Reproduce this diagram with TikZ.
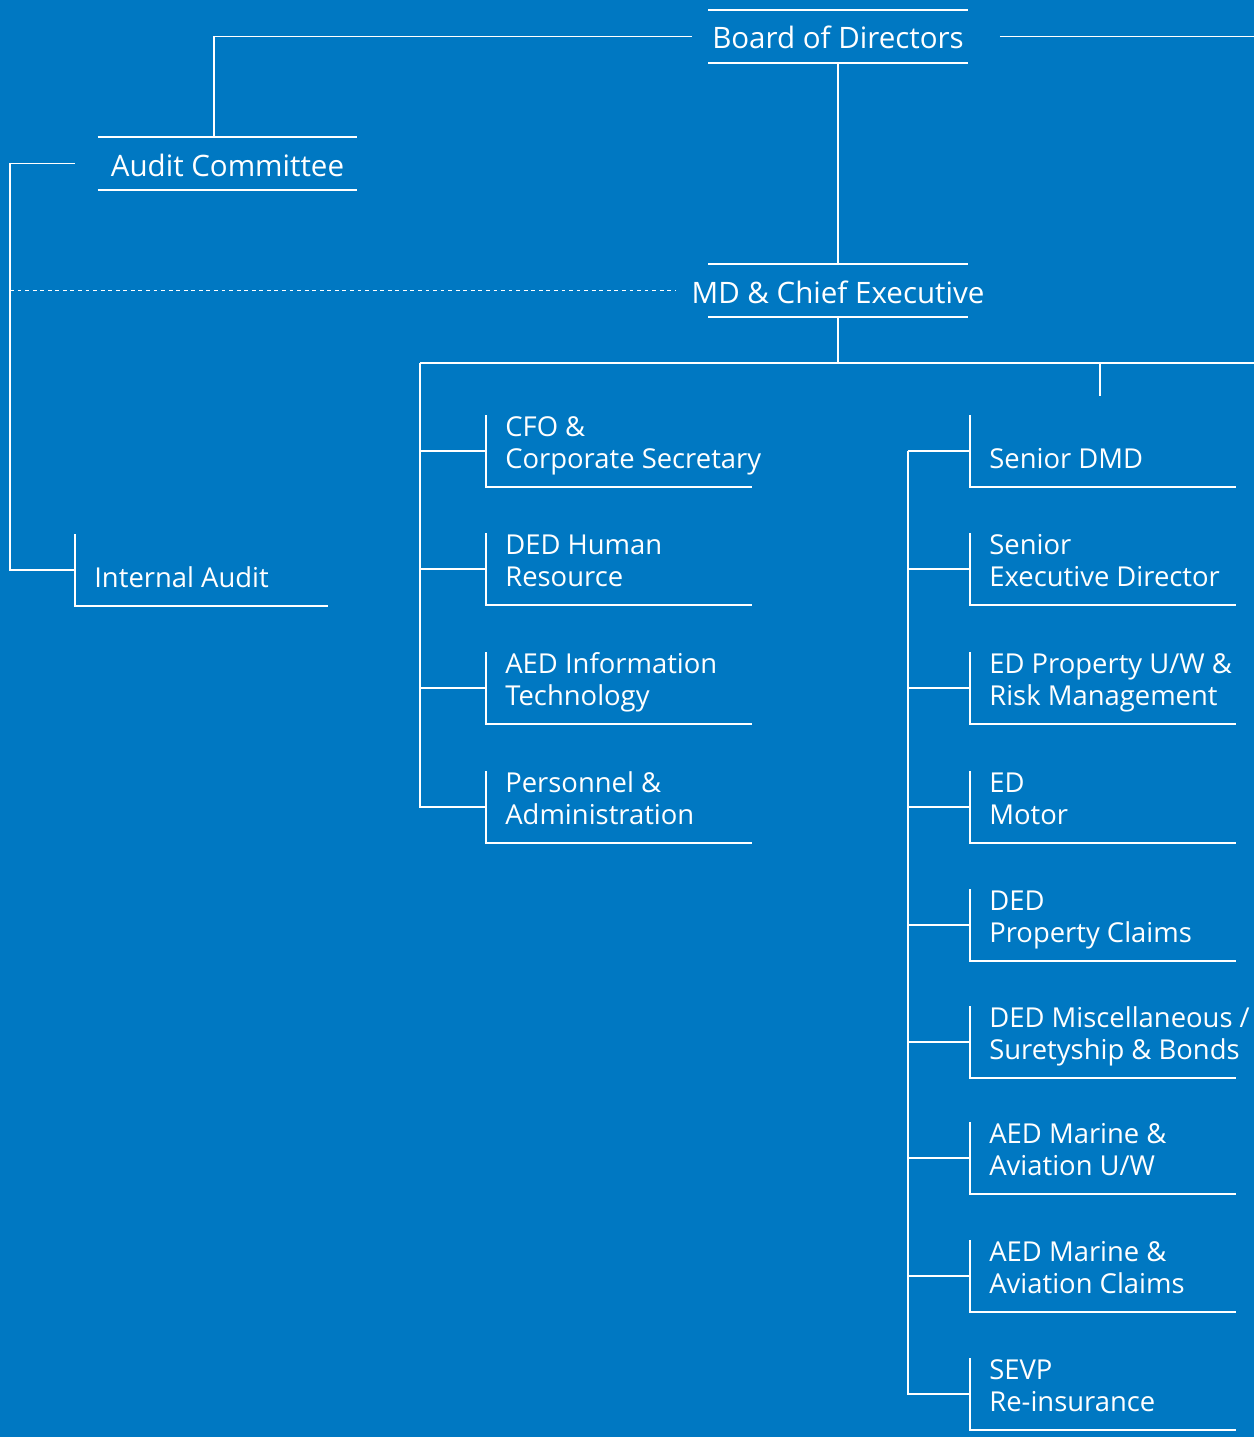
\documentclass[tikz,border=0pt]{standalone}
\usepackage{fontspec}
\setmainfont{Open Sans}
\usepackage{tikz}
\usetikzlibrary{positioning,calc}
\definecolor{orgblue}{RGB}{0,120,194}
\tikzstyle{link} = [line width=1.1pt, draw=white]
\tikzstyle{dotlink} = [line width=1.1pt, draw=white, dash pattern=on 2.2pt off 2.1pt]
\tikzstyle{head} = [minimum width=5.2cm, minimum height=1.06cm, inner sep=0pt, text height=0.5cm, text depth=0pt, text=white, font=\fontsize{16.8}{19}\selectfont]
\tikzstyle{unit} = [anchor=base west, inner sep=0pt, text=white, font=\fontsize{15.6}{18.1}\selectfont]
\newcommand{\twolines}[2]{\begin{tabular}[b]{@{}l@{}}#1\\#2\end{tabular}}

\begin{document}
\begin{tikzpicture}[x=0.02cm, y=-0.02cm]
\useasboundingbox (0,0) rectangle (1254,1437);
\fill[orgblue] (0,0) rectangle (1254,1437);
\coordinate (edge) at (1254,0);
\coordinate (margin) at (10,0);
\coordinate (bus) at (420,363);
\coordinate (stub) at (1100,396);
\coordinate (rspine) at (908,0);

% Board, audit committee and chief executive
\node (board) [head] at (838,36.5) {Board of Directors};
\node (audit) [head] at (227.5,163.5) {Audit Committee};
\node (md) [head] at (838,290.5) {MD \& Chief Executive};
\foreach \n in {board,audit,md}
  \draw[link] ([xshift=-2.6cm]\n.north) -- ([xshift=2.6cm]\n.north)
              ([xshift=-2.6cm]\n.south) -- ([xshift=2.6cm]\n.south);

% Internal audit
\node (ia) [unit] at (94,587) {Internal Audit};

% Left column
\node (cfo) [unit] at (505,468) {\twolines{CFO \&}{Corporate Secretary}};
\node (hr) [unit] at (505,586) {\twolines{DED Human}{Resource}};
\node (it) [unit] at (505,705) {\twolines{AED Information}{Technology}};
\node (pers) [unit] at (505,824) {\twolines{Personnel \&}{Administration}};

% Right column
\node (sdmd) [unit] at (989,468) {Senior DMD};
\node (sed) [unit] at (989,586) {\twolines{Senior}{Executive Director}};
\node (edp) [unit] at (989,705) {\twolines{ED Property U/W \&}{Risk Management}};
\node (edm) [unit] at (989,824) {\twolines{ED}{Motor}};
\node (dpc) [unit] at (989,942) {\twolines{DED}{Property Claims}};
\node (misc) [unit] at (989,1059) {\twolines{DED Miscellaneous /}{Suretyship \& Bonds}};
\node (uw) [unit] at (989,1175) {\twolines{AED Marine \&}{Aviation U/W}};
\node (claims) [unit] at (989,1293) {\twolines{AED Marine \&}{Aviation Claims}};
\node (sevp) [unit] at (989,1411) {\twolines{SEVP}{Re-insurance}};

% Brackets round the units
\foreach \n/\w in {ia/253,cfo/266,hr/266,it/266,pers/266,sdmd/266,sed/266,edp/266,edm/266,dpc/266,misc/266,uw/266,claims/266,sevp/266}
  \draw[link] (\n.base west) ++(-19,-53) -- ++(0,36) coordinate (\n-in) -- ++(0,36) -- ++(\w,0);

% Connectors at the top
\draw[link] ([xshift=-2.92cm]board.center) -| ([xshift=-0.27cm]audit.north);
\draw[link] ([xshift=3.24cm]board.center) -- (board.center -| edge);
\draw[link] (board.south) -- (md.north);
\draw[link] ([xshift=-3.05cm]audit.center) -- (audit.center -| margin) |- (ia-in);
\draw[dotlink] (md.center -| margin) -- ([xshift=-3.24cm]md.center);

% Bus under the chief executive
\draw[link] (md.south) -- (md.south |- bus);
\draw[link] (bus) -- (bus -| edge);
\draw[link] (stub |- bus) -- (stub);

% Spines
\draw[link] (bus) |- (pers-in);
\foreach \n in {cfo,hr,it}
  \draw[link] (\n-in) -- (\n-in -| bus);
\draw[link] (sdmd-in -| rspine) |- (sevp-in);
\foreach \n in {sdmd,sed,edp,edm,dpc,misc,uw,claims}
  \draw[link] (\n-in) -- (\n-in -| rspine);
\end{tikzpicture}
\end{document}
